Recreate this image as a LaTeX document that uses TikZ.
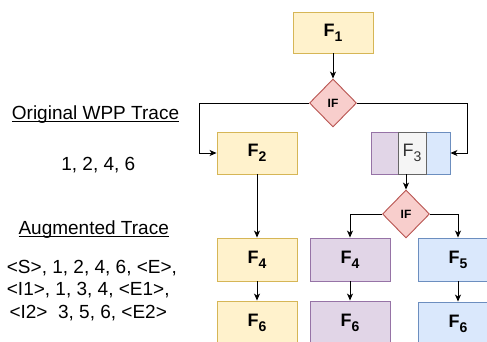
\documentclass[tikz,border=0pt]{standalone}
\usepackage{fontspec}
\setmainfont{Liberation Sans}
\usetikzlibrary{shapes.geometric,arrows.meta}
\definecolor{yfill}{HTML}{FFF2CC}
\definecolor{ydraw}{HTML}{D6B656}
\definecolor{rfill}{HTML}{F8CECC}
\definecolor{rdraw}{HTML}{B85450}
\definecolor{pfill}{HTML}{E1D5E7}
\definecolor{pdraw}{HTML}{9673A6}
\definecolor{bfill}{HTML}{DAE8FC}
\definecolor{bdraw}{HTML}{6C8EBF}
\definecolor{gfill}{HTML}{F5F5F5}
\definecolor{gdraw}{HTML}{666666}
\definecolor{gtext}{HTML}{333333}
\newcommand\Flab[1]{{\fontsize{18}{18}\selectfont\bfseries F\raisebox{-5pt}{\fontsize{14}{14}\selectfont #1}}}
\newcommand\Fplain[1]{{\fontsize{18}{18}\selectfont F\raisebox{-5pt}{\fontsize{14}{14}\selectfont #1}}}
\newcommand\myul[1]{\setbox0\hbox{#1}\rlap{\rule[-3pt]{\wd0}{1.3pt}}\box0}
\tikzset{
  fbox/.style={rectangle, line width=0.9pt, minimum width=80pt, minimum height=42pt, inner sep=0pt},
  ybox/.style={fbox, fill=yfill, draw=ydraw},
  pbox/.style={fbox, fill=pfill, draw=pdraw},
  bbox/.style={fbox, fill=bfill, draw=bdraw},
  gbox/.style={fbox, fill=gfill, draw=gdraw, text=gtext},
  dia/.style={diamond, draw=rdraw, fill=rfill, line width=0.9pt, minimum width=47pt, minimum height=48pt, inner sep=0pt, font=\fontsize{12}{12}\selectfont\bfseries},
  conn/.style={draw=black, line width=0.9pt, -{Stealth[length=7pt,width=6pt,inset=2pt]}},
  txt/.style={inner sep=0pt, font=\fontsize{19}{19}\selectfont}
}
\begin{document}
\begin{tikzpicture}[x=1pt,y=-1pt]
\useasboundingbox (0,0) rectangle (487,341);
\clip (0,0) rectangle (487,341);
\fill[white] (0,0) rectangle (487,341);
% nodes
\node[ybox, minimum height=41pt] (f1) at (333,32.5) {\Flab{1}};
\node[dia] (d1) at (333,103) {IF};
\node[ybox] (f2) at (257,153) {\Flab{2}};
\node[pbox, minimum width=27pt] (f3a) at (384.5,153) {};
\node[bbox, minimum width=24pt] (f3b) at (438,153) {};
\node[gbox, minimum width=28pt] (f3) at (412,153) {\Fplain{3}};
\node[dia] (d2) at (406,214) {IF};
\node[ybox, minimum height=43pt] (f4) at (257,259.5) {\Flab{4}};
\node[ybox, minimum height=43pt] (f6) at (257,322.5) {\Flab{6}};
\node[pbox, minimum height=43pt] (f4p) at (350,259.5) {\Flab{4}};
\node[pbox, minimum height=43pt] (f6p) at (350,322.5) {\Flab{6}};
\node[bbox, minimum height=43pt] (f5) at (458,259.5) {\Flab{5}};
\node[bbox, minimum height=43pt] (f6b) at (458,323.5) {\Flab{6}};
% corners
\coordinate (cl) at (199,103);
\coordinate (cr) at (467,103);
% connectors
\draw[conn] (f1) -- (d1);
\draw[conn] (d1.west) -- (cl) |- (f2.west);
\draw[conn] (d1.east) -- (cr) |- (f3b.east);
\draw[conn] (f2) -- (f4);
\draw[conn] (f4) -- (f6);
\draw[conn] (d2 |- f3.south) -- (d2.north);
\draw[conn] (d2.west) -| (f4p.north);
\draw[conn] (d2.east) -| (f5.north);
\draw[conn] (f4p) -- (f6p);
\draw[conn] (f5) -- (f6b);
% texts
\node[txt, anchor=base] (t1) at (95.5,119) {\myul{Original WPP Trace}};
\node[txt, anchor=base] (t2) at (98.3,170) {1, 2, 4, 6};
\node[txt, anchor=base] (t3) at (93.7,234) {\myul{Augmented Trace}};
\node[txt, anchor=base west] (l1) at (6.7,273.3) {<S>, 1, 2, 4, 6, <E>,};
\node[txt, anchor=base west] (l2) at (6.7,295.8) {<I1>, 1, 3, 4, <E1>,};
\node[txt, anchor=base west] (l3) at (9.3,318.3) {<I2>~~3, 5, 6, <E2>};
\end{tikzpicture}
\end{document}
